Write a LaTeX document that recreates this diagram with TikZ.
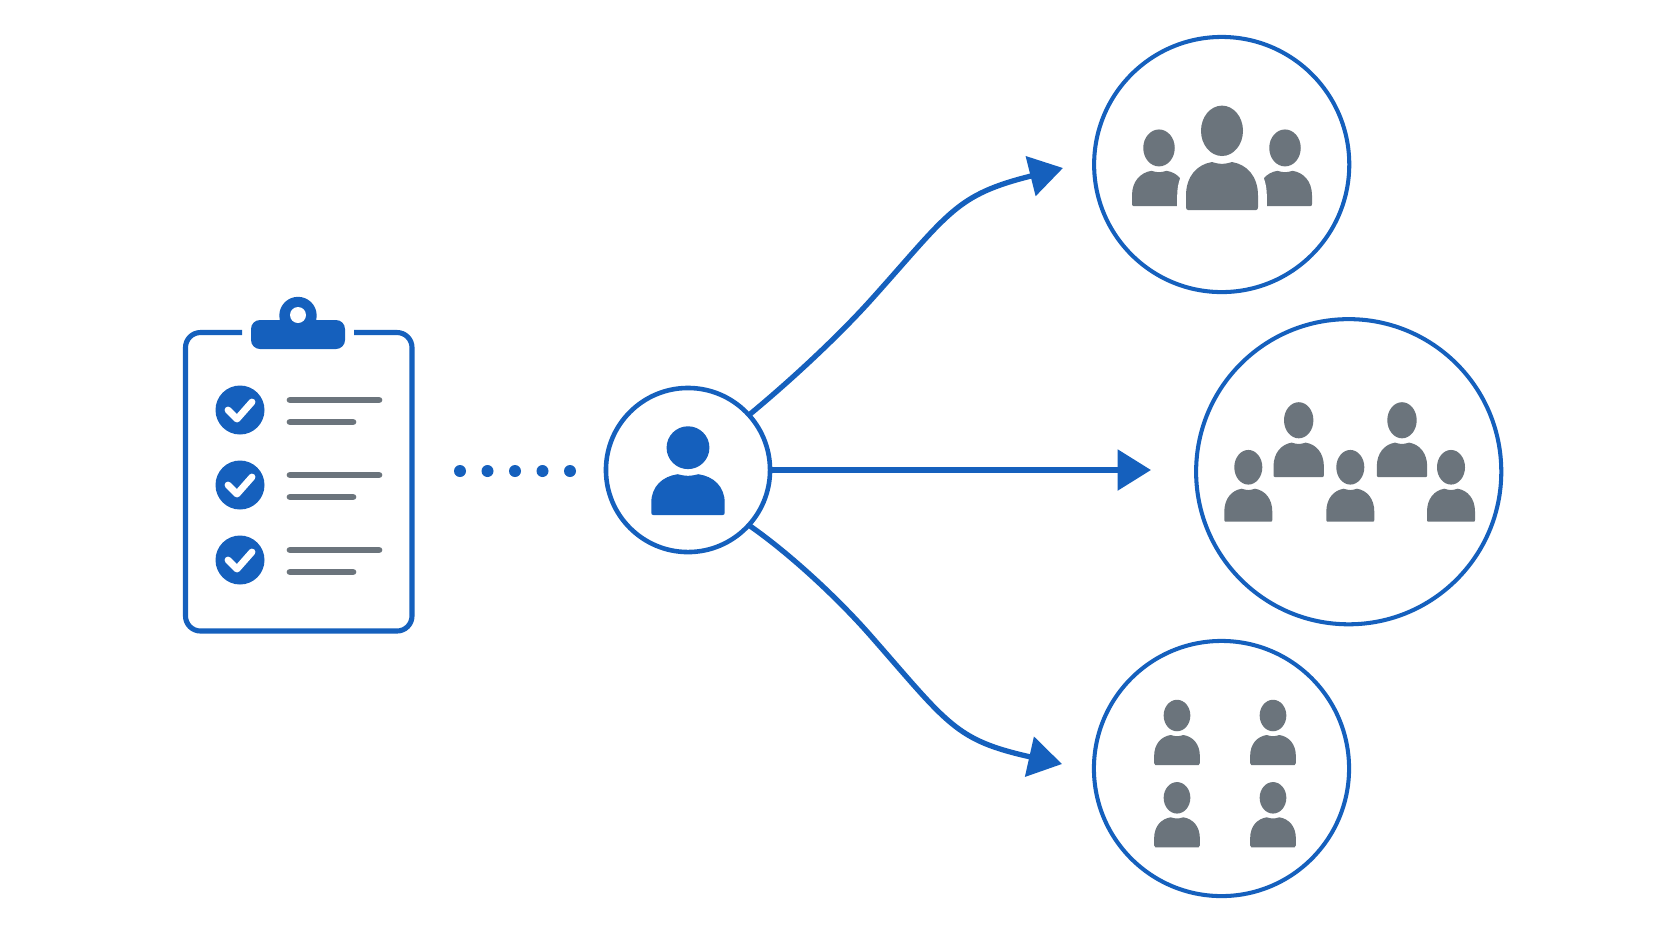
\documentclass[tikz,border=0pt]{standalone}
\usetikzlibrary{arrows.meta}
\definecolor{iconblue}{RGB}{21,96,189}
\definecolor{slate}{RGB}{107,116,124}
\newcommand{\personbody}{(-34,0) .. controls (-35.5,0) and (-36,-1) .. (-36,-2.5) -- (-36,-12)
  .. controls (-36,-28) and (-25,-38) .. (-10,-40) .. controls (-6,-39) and (-3,-38.4) .. (0,-38.4)
  .. controls (3,-38.4) and (6,-39) .. (10,-40) .. controls (25,-38) and (36,-28) .. (36,-12)
  -- (36,-2.5) .. controls (36,-1) and (35.5,0) .. (34,0) -- cycle}
\tikzset{
  person/.pic={\fill \personbody; \fill (0,-66) circle[radius=21];},
  halo/.pic={\draw[white,line width=5pt] \personbody;},
  ring/.style={draw=iconblue,circle,inner sep=0pt,line width=1.15pt},
  flow/.style={draw=iconblue,line width=1.5pt,-{Triangle[length=9.5pt,width=11.4pt]}},
  graybar/.style={draw=slate,line width=1.9pt}
}
\begin{document}
\begin{tikzpicture}[x=0.01cm,y=-0.01cm,line cap=round,line join=round]
  \useasboundingbox (0,0) rectangle (1672,941);
  \fill[white] (0,0) rectangle (1672,941);
  % clipboard
  \draw[draw=iconblue,line width=1.45pt,line cap=butt,rounded corners=1.5mm] (242,332.5) -- (185.5,332.5)
    -- (185.5,631) -- (412,631) -- (412,332.5) -- (354,332.5);
  \fill[iconblue,rounded corners=0.9mm] (251,320) rectangle (345,349);
  \fill[iconblue] (298,315.5) circle[radius=18.7];
  \fill[white] (298,315) circle[radius=8];
  \foreach \y in {410,485,560} {
    \begin{scope}[shift={(0,\y)}]
      \fill[iconblue] (240,0) circle[radius=24.5];
      \draw[white,line width=1.95pt] (228,0) -- (237,9) -- (252,-8);
      \draw[graybar] (290,-10) -- (379,-10);
      \draw[graybar] (290,12) -- (353,12);
    \end{scope}
  }
  \foreach \x in {460,487.5,515,542.5,570}
    \fill[iconblue] (\x,471) circle[radius=6];
  % the user and the three groups
  \node[ring,line width=1.3pt,minimum size=1.64cm] (user) at (688,470) {};
  \node[ring,minimum size=2.55cm] (groupa) at (1221.7,164.5) {};
  \node[ring,minimum size=3.05cm] (groupb) at (1348.7,471.7) {};
  \node[ring,minimum size=2.55cm] (groupc) at (1221.5,768.5) {};
  \pic[color=iconblue,scale=1.02] at (688,515) {person};
  % first group
  \pic[color=slate,xscale=.75,yscale=.88] at (1159,206) {person};
  \pic[color=slate,xscale=.75,yscale=.88] at (1285,206) {person};
  \pic[yscale=1.2] at (1222,210) {halo};
  \pic[color=slate,yscale=1.2] at (1222,210) {person};
  % second group
  \foreach \x in {1298.7,1402}
    \pic[color=slate,xscale=.70,yscale=.86] at (\x,477) {person};
  \foreach \x in {1248.3,1350.3,1451}
    \pic[color=slate,xscale=.667,yscale=.825] at (\x,521.7) {person};
  % third group
  \foreach \x in {1177,1273} {
    \pic[color=slate,xscale=.635,yscale=.75] at (\x,765) {person};
    \pic[color=slate,xscale=.635,yscale=.75] at (\x,847.3) {person};
  }
  % arrows
  \coordinate (tipa) at (1063,168);
  \coordinate (tipb) at (1151,470);
  \coordinate (tipc) at (1062,764);
  \draw[flow] (user.42.5) .. controls (790,381) and (836.5,338) .. (870,301)
    .. controls (950,212) and (955,195) .. (tipa);
  \draw[flow] (user.east) -- (tipb);
  \draw[flow] (user.-42.5) .. controls (790,554) and (837,597.5) .. (870,635)
    .. controls (949,725) and (955,740) .. (tipc);
\end{tikzpicture}
\end{document}
